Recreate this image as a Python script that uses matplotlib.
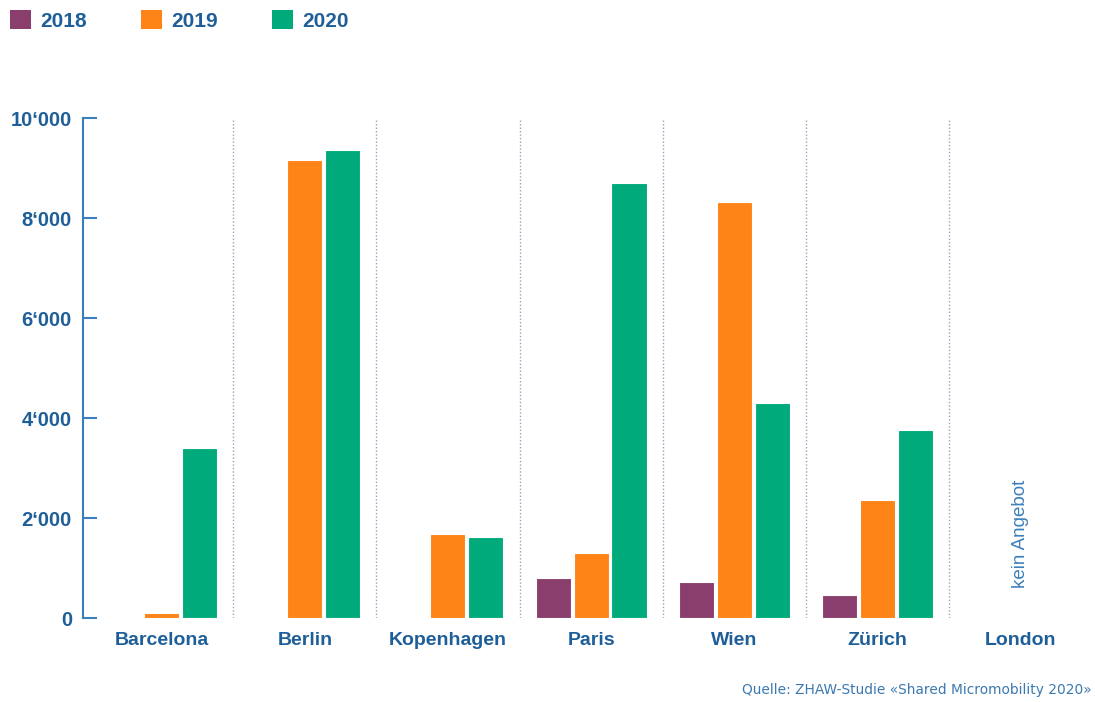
import matplotlib
matplotlib.use("Agg")
import matplotlib.pyplot as plt
import numpy as np
from matplotlib.patches import Patch

cities = ["Barcelona", "Berlin", "Kopenhagen", "Paris", "Wien", "Zürich", "London"]
years = ["2018", "2019", "2020"]
v2018 = [0, 0, 0, 800, 720, 460, 0]
v2019 = [110, 9160, 1680, 1300, 8320, 2360, 0]
v2020 = [3400, 9360, 1620, 8700, 4300, 3760, 0]
yticks = [0, 2000, 4000, 6000, 8000, 10000]
ytick_labels = ["0", "2‘000", "4‘000", "6‘000", "8‘000", "10‘000"]

colors = ["#8a3e6e", "#ff8418", "#00aa7a"]
txt_blue = "#1f5f99"
axis_blue = "#3b7fba"

plt.rcParams['font.family'] = ['Liberation Sans', 'DejaVu Sans']

fig = plt.figure(figsize=(10.95, 7.02), dpi=100)
W, H = 1095, 702
left, right, top, bottom = 83, 1092, 118, 618
ax = fig.add_axes([left / W, 1 - bottom / H, (right - left) / W, (bottom - top) / H])

x = np.arange(len(cities))
bw = 0.245
step = 0.265
series = [v2018, v2019, v2020]
for k, vals in enumerate(series):
    vals_arr = np.array(vals, dtype=float)
    mask = vals_arr > 0
    ax.bar(x[mask] + (k - 1) * step, vals_arr[mask], width=bw, color=colors[k],
           edgecolor="white", linewidth=0.8, zorder=3)

for b in np.arange(0.5, len(cities) - 1, 1.0):
    ax.plot([b, b], [0, 10000], linestyle=(0, (1, 1.5)), color="#8fa6bd", linewidth=1.0, zorder=1)

ax.set_xlim(-0.55, 6.5)
ax.set_ylim(0, 10000)
for s in ["top", "right", "bottom"]:
    ax.spines[s].set_visible(False)
ax.spines["left"].set_color(axis_blue)
ax.spines["left"].set_linewidth(1.5)
ax.set_yticks(yticks)
ax.set_yticklabels(ytick_labels, fontsize=14.5, fontweight="bold", color=txt_blue)
ax.tick_params(axis="y", direction="in", length=10, width=1.5, color=axis_blue, pad=8)
ax.set_xticks(x)
ax.set_xticklabels(cities, fontsize=14, fontweight="bold", color=txt_blue)
ax.tick_params(axis="x", length=0, pad=10)

ax.text(6, 1680, "kein Angebot", rotation=90, ha="center", va="center",
        fontsize=13.5, color=axis_blue)

handles = [Patch(facecolor=colors[i], edgecolor="none", label=years[i]) for i in range(3)]
fig.legend(handles=handles, loc="upper left", bbox_to_anchor=(0.0, 1.0), ncol=3,
           frameon=False, handlelength=1.0, handleheight=1.0, handletextpad=0.45,
           columnspacing=2.6, borderaxespad=0.2, borderpad=0.3,
           prop={"size": 15, "weight": "bold"}, labelcolor=txt_blue)

fig.text(1092 / W, 1 - 690 / H, "Quelle: ZHAW-Studie «Shared Micromobility 2020»",
         ha="right", va="center", fontsize=9.9, color="#3a78b0", family="DejaVu Sans")

fig.savefig("out.png", dpi=100)
